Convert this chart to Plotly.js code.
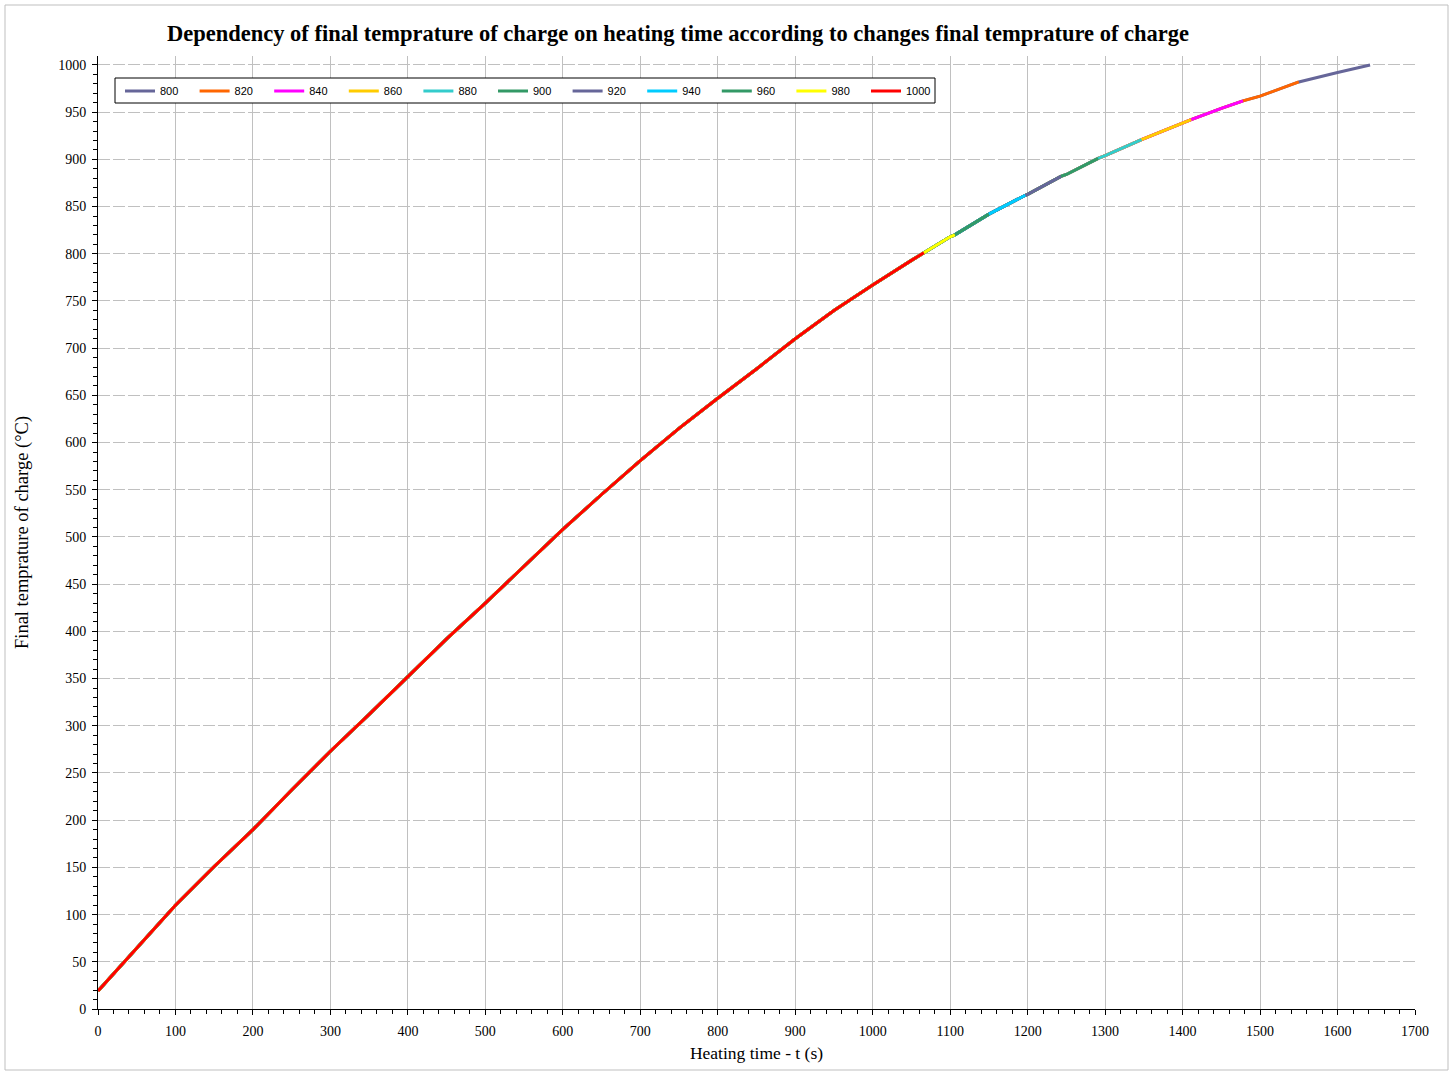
<!DOCTYPE html>
<html>
<head>
<meta charset="utf-8">
<script src="https://cdn.plot.ly/plotly-3.0.1.min.js"></script>
<style>
  html, body { margin: 0; padding: 0; background: #ffffff; }
  #chart { width: 1453px; height: 1075px; }
</style>
</head>
<body>
<div id="chart"></div>
<script>
// Heating time (s) (includes each series' end point)
const heatingTime = [0, 50, 100, 150, 200, 250, 300, 350, 400, 450, 500, 550, 600, 650, 700,
  750, 800, 850, 900, 950, 1000, 1050, 1066, 1100, 1106, 1150, 1197, 1200, 1243, 1250,
  1291, 1300, 1347, 1350, 1400, 1411, 1450, 1478, 1500, 1550, 1600, 1642];
// Final temperature of charge (°C)
const finalTemperature = [19, 64, 110, 151, 190, 232, 273, 312, 352, 392, 430, 469, 508, 545, 581,
  615, 647, 678, 710, 740, 767, 793, 801, 818, 820, 842, 862, 863, 882, 884,
  901, 904, 921, 922, 939, 942, 954, 962, 967, 982, 992, 1000];

// Series (legend labels) and the heating time at which each one ends
const seriesNames = ['800', '820', '840', '860', '880', '900', '920', '940', '960', '980', '1000'];
const seriesEndTime = [1642, 1550, 1478, 1411, 1347, 1291, 1243, 1197, 1150, 1106, 1066];
const seriesColors = ['#666699', '#FF6600', '#FF00FF', '#FFCC00', '#33CCCC', '#339966',
  '#666699', '#00CCFF', '#339966', '#FFFF00', '#FF0000'];

const xTicks = [0, 100, 200, 300, 400, 500, 600, 700, 800, 900, 1000, 1100, 1200, 1300, 1400, 1500, 1600, 1700];
const yTicks = [0, 50, 100, 150, 200, 250, 300, 350, 400, 450, 500, 550, 600, 650, 700, 750, 800, 850, 900, 950, 1000];

const traces = seriesNames.map(function (name, i) {
  const xs = [], ys = [];
  for (let k = 0; k < heatingTime.length; k++) {
    if (heatingTime[k] <= seriesEndTime[i]) { xs.push(heatingTime[k]); ys.push(finalTemperature[k]); }
  }
  return {
    type: 'scatter', mode: 'lines', name: name, x: xs, y: ys,
    line: { color: seriesColors[i], width: 3 },
    hoverinfo: 'x+y+name'
  };
});

const serif = 'Liberation Serif, Times New Roman, serif';
const PL = 98, PT = 56, PW = 1317, PH = 953; // plot area in px
function px2x(p) { return (p - PL) / PW; }
function px2y(p) { return (PT + PH - p) / PH; }

const layout = {
  width: 1453, height: 1075,
  margin: { l: 98, r: 38, t: 56, b: 66 },
  paper_bgcolor: '#ffffff', plot_bgcolor: '#ffffff',
  showlegend: true,
  title: {
    text: '<b>Dependency of final temprature of charge on heating time according to changes final temprature of charge</b>',
    font: { family: serif, size: 22.5, color: '#000000' },
    x: px2x(678), xref: 'paper', xanchor: 'center',
    y: 1 - 33 / 1075, yref: 'container', yanchor: 'middle'
  },
  xaxis: {
    range: [0, 1700], tickvals: xTicks, ticktext: xTicks.map(String),
    showline: true, linecolor: '#000000', linewidth: 1,
    ticks: 'outside', ticklen: 5, tickcolor: '#000000', tickwidth: 1,
    ticklabelstandoff: 4,
    minor: { dtick: 20, ticks: 'outside', ticklen: 4, tickcolor: '#000000', showgrid: false },
    showgrid: true, gridcolor: '#C0C0C0', gridwidth: 1,
    zeroline: false,
    tickfont: { family: serif, size: 14, color: '#000000' },
    title: { text: 'Heating time - t (s)', font: { family: serif, size: 17.5, color: '#000000' }, standoff: 8 }
  },
  yaxis: {
    range: [0, 1009.5], tickvals: yTicks, ticktext: yTicks.map(String),
    showline: true, linecolor: '#000000', linewidth: 1,
    ticks: 'outside', ticklen: 5, tickcolor: '#000000', tickwidth: 1,
    ticklabelstandoff: 3,
    minor: { dtick: 10, ticks: 'outside', ticklen: 4, tickcolor: '#000000', showgrid: false },
    showgrid: true, gridcolor: '#C0C0C0', gridwidth: 1, griddash: '12px,3px',
    zeroline: false,
    tickfont: { family: serif, size: 14, color: '#000000' },
    title: { text: 'Final temprature of charge (°C)', font: { family: serif, size: 18.5, color: '#000000' }, standoff: 24 }
  },
  legend: {
    orientation: 'h',
    x: px2x(120), xanchor: 'left',
    y: px2y(76.5), yanchor: 'top',
    bgcolor: 'rgba(0,0,0,0)', borderwidth: 0,
    font: { family: 'Liberation Sans, Arial, sans-serif', size: 11, color: '#000000' },
    entrywidth: 29.6, entrywidthmode: 'pixels',
    itemwidth: 30, tracegroupgap: 0
  },
  shapes: [{
    type: 'rect', xref: 'paper', yref: 'paper',
    x0: px2x(5), x1: px2x(1448), y0: px2y(1070), y1: px2y(5),
    line: { color: '#BFBFBF', width: 1 }, fillcolor: 'rgba(0,0,0,0)', layer: 'below'
  }, {
    type: 'rect', xref: 'paper', yref: 'paper',
    x0: px2x(115), x1: px2x(935), y0: px2y(103), y1: px2y(78),
    line: { color: '#000000', width: 1 }, fillcolor: '#ffffff', layer: 'above'
  }]
};

Plotly.newPlot('chart', traces, layout, { displayModeBar: false, responsive: false });
</script>
</body>
</html>
